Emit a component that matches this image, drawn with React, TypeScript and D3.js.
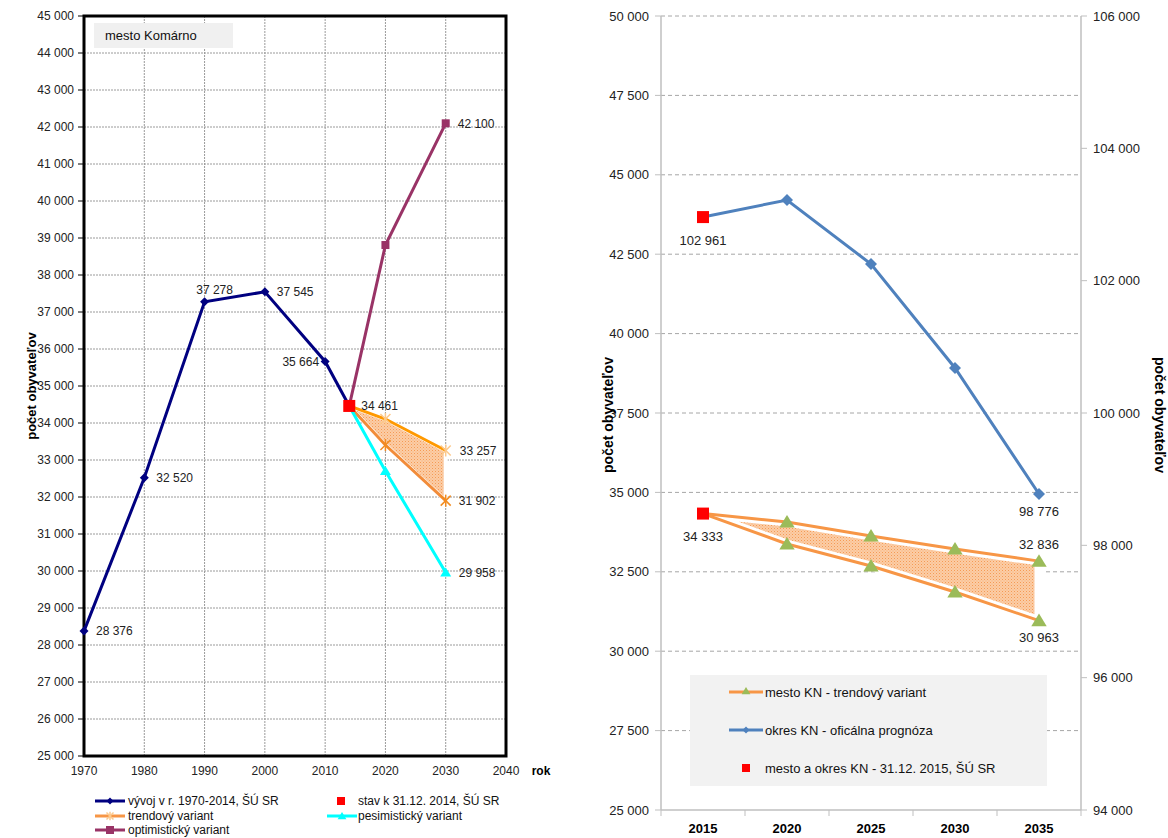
import React from "react";
import * as d3 from "d3";

// ---------- Left chart data ----------
const histYears = [1970, 1980, 1990, 2000, 2010, 2014];
const histValues = [28376, 32520, 37278, 37545, 35664, 34461];
const projYears = [2014, 2020, 2030];
const optimValues = [34461, 38810, 42100];
const trendUpperValues = [34461, 34108, 33257];
const trendLowerValues = [34461, 33405, 31902];
const pesimValues = [34461, 32703, 29958];
const leftYTicks = d3.range(25000, 45001, 1000);
const leftXTicks = [1970, 1980, 1990, 2000, 2010, 2020, 2030, 2040];

// ---------- Right chart data ----------
const rightCats = ["2015", "2020", "2025", "2030", "2035"];
const mestoUpper = [34333, 34068, 33627, 33218, 32836];
const mestoLower = [34333, 33375, 32683, 31864, 30963];
const okresValues = [102961, 103219, 102251, 100680, 98776];
const rightLeftTicks = d3.range(25000, 50001, 2500);
const rightRightTicks = d3.range(94000, 106001, 2000);

const FONT = "Liberation Sans, Arial, sans-serif";
const fmt = (v: number) => {
  const s = String(Math.round(v));
  return s.replace(/\B(?=(\d{3})+(?!\d))/g, " ");
};

export default function App() {
  // Left scales
  const xL = d3.scaleLinear().domain([1970, 2040]).range([84, 506]);
  const yL = d3.scaleLinear().domain([25000, 45000]).range([756, 16]);
  const lineL = (xs: number[], vs: number[]) =>
    d3.line<number>().x((_, i) => xL(xs[i])).y((v) => yL(v))(vs) as string;

  // Right scales
  const xR = d3.scalePoint<string>().domain(rightCats).range([661, 1081]).padding(0.5);
  const yRL = d3.scaleLinear().domain([25000, 50000]).range([810, 16]);
  const yRR = d3.scaleLinear().domain([94000, 106000]).range([810, 16]);
  const lineR = (vs: number[], y: d3.ScaleLinear<number, number>) =>
    d3.line<number>().x((_, i) => xR(rightCats[i]) as number).y((v) => y(v))(vs) as string;

  const areaL = d3
    .area<number>()
    .x((_, i) => xL(projYears[i]))
    .y0((_, i) => yL(trendLowerValues[i]))
    .y1((v) => yL(v))(trendUpperValues) as string;
  const areaR = d3
    .area<number>()
    .x((_, i) => xR(rightCats[i]) as number)
    .y0((_, i) => yRL(mestoLower[i]))
    .y1((v) => yRL(v))(mestoUpper) as string;

  const diamond = (cx: number, cy: number, r: number, fill: string, key?: any) => (
    <path key={key} d={`M${cx},${cy - r}L${cx + r},${cy}L${cx},${cy + r}L${cx - r},${cy}Z`} fill={fill} />
  );
  const triangle = (cx: number, cy: number, r: number, fill: string, key?: any) => (
    <path key={key} d={`M${cx},${cy - r}L${cx + r * 1.1},${cy + r * 0.8}L${cx - r * 1.1},${cy + r * 0.8}Z`} fill={fill} />
  );
  const asterisk = (cx: number, cy: number, r: number, stroke: string, key?: any) => (
    <g key={key} stroke={stroke} strokeWidth={1.5}>
      <line x1={cx - r} y1={cy - r} x2={cx + r} y2={cy + r} />
      <line x1={cx - r} y1={cy + r} x2={cx + r} y2={cy - r} />
      <line x1={cx} y1={cy - r * 1.2} x2={cx} y2={cy + r * 1.2} />
    </g>
  );

  const tickFontL = 12;
  const tickFontR = 13;

  return (
    <svg
      width={1168}
      height={838}
      style={{ position: "absolute", left: 0, top: 0, background: "#fff" }}
      fontFamily={FONT}
    >
      <defs>
        <pattern id="hatch" width={3} height={3} patternUnits="userSpaceOnUse">
          <rect width={3} height={3} fill="#FBCDA6" />
          <rect width={1} height={1} fill="#F59A55" />
          <rect x={1.5} y={1.5} width={1} height={1} fill="#F7AE77" />
        </pattern>
      </defs>

      {/* ================= LEFT CHART ================= */}
      <g>
        {leftYTicks.map((t) => (
          <line key={"gy" + t} x1={84} x2={506} y1={yL(t)} y2={yL(t)} stroke="#9a9a9a" strokeWidth={1} strokeDasharray="2,1" />
        ))}
        {leftXTicks.map((t) => (
          <line key={"gx" + t} x1={xL(t)} x2={xL(t)} y1={16} y2={756} stroke="#9a9a9a" strokeWidth={1} strokeDasharray="2,1" />
        ))}
        <rect x={84} y={16} width={422} height={740} fill="none" stroke="#000" strokeWidth={3} />
        {leftYTicks.map((t) => (
          <g key={"ty" + t}>
            <line x1={78} x2={84} y1={yL(t)} y2={yL(t)} stroke="#000" />
            <text x={74} y={yL(t)} dy="0.35em" textAnchor="end" fontSize={tickFontL} fill="#222">
              {fmt(t)}
            </text>
          </g>
        ))}
        {leftXTicks.map((t) => (
          <text key={"tx" + t} x={xL(t)} y={775} textAnchor="middle" fontSize={tickFontL} fill="#222">
            {t}
          </text>
        ))}
        <text x={541} y={775} textAnchor="middle" fontSize={12} fontWeight="bold">
          rok
        </text>
        <text transform={`translate(36,386) rotate(-90)`} textAnchor="middle" fontSize={13} fontWeight="bold">
          počet obyvateľov
        </text>
        <rect x={94} y={23} width={139} height={25} fill="#F0F0F0" />
        <text x={105} y={40} fontSize={13} fill="#111">
          mesto Komárno
        </text>

        <path d={areaL} fill="url(#hatch)" stroke="#fff" strokeWidth={4} strokeLinejoin="round" />

        <path d={lineL(histYears, histValues)} fill="none" stroke="#000080" strokeWidth={3} />
        <path d={lineL(projYears, optimValues)} fill="none" stroke="#993366" strokeWidth={3} />
        <path d={lineL(projYears, trendUpperValues)} fill="none" stroke="#FF9900" strokeWidth={3} />
        <path d={lineL(projYears, trendLowerValues)} fill="none" stroke="#F28C3A" strokeWidth={3} />
        <path d={lineL(projYears, pesimValues)} fill="none" stroke="#00FFFF" strokeWidth={3} />

        {histYears.slice(0, 5).map((yr, i) => diamond(xL(yr), yL(histValues[i]), 4.5, "#000080", "hd" + i))}
        {projYears.slice(1).map((yr, i) => (
          <rect key={"om" + i} x={xL(yr) - 4} y={yL(optimValues[i + 1]) - 4} width={8} height={8} fill="#993366" />
        ))}
        {projYears.slice(1).map((yr, i) => asterisk(xL(yr), yL(trendUpperValues[i + 1]), 5, "#FCC98C", "tu" + i))}
        {projYears.slice(1).map((yr, i) => asterisk(xL(yr), yL(trendLowerValues[i + 1]), 5, "#F28C20", "tl" + i))}
        {projYears.slice(1).map((yr, i) => triangle(xL(yr), yL(pesimValues[i + 1]), 5, "#00FFFF", "pm" + i))}
        <rect x={xL(2014) - 6} y={yL(34461) - 6} width={12} height={12} fill="#FF0000" />

        <g fontSize={12} fill="#222">
          <text x={xL(1970) + 12} y={yL(28376)} dy="0.35em">{fmt(28376)}</text>
          <text x={xL(1980) + 12} y={yL(32520)} dy="0.35em">{fmt(32520)}</text>
          <text x={xL(1990) + 10} y={yL(37278) - 12} dy="0.35em" textAnchor="middle">{fmt(37278)}</text>
          <text x={xL(2000) + 12} y={yL(37545)} dy="0.35em">{fmt(37545)}</text>
          <text x={xL(2010) - 6} y={yL(35664)} dy="0.35em" textAnchor="end">{fmt(35664)}</text>
          <text x={xL(2014) + 12} y={yL(34461)} dy="0.35em">{fmt(34461)}</text>
          <text x={xL(2030) + 12} y={yL(42100)} dy="0.35em">{fmt(42100)}</text>
          <text x={xL(2030) + 14} y={yL(33257)} dy="0.35em">{fmt(33257)}</text>
          <text x={xL(2030) + 13} y={yL(31902)} dy="0.35em">{fmt(31902)}</text>
          <text x={xL(2030) + 13} y={yL(29958)} dy="0.35em">{fmt(29958)}</text>
        </g>

        <g fontSize={12} fill="#111">
          <line x1={95} x2={125} y1={801} y2={801} stroke="#000080" strokeWidth={3} />
          {diamond(110, 801, 3.5, "#000080")}
          <text x={128} y={801} dy="0.35em">vývoj v r. 1970-2014, ŠÚ SR</text>
          <rect x={337} y={797} width={8} height={8} fill="#FF0000" />
          <text x={358} y={801} dy="0.35em">stav k 31.12. 2014, ŠÚ SR</text>

          <line x1={95} x2={125} y1={816} y2={816} stroke="#F79646" strokeWidth={3} />
          {asterisk(110, 816, 3.5, "#FCC98C")}
          <text x={128} y={816} dy="0.35em">trendový variant</text>
          <line x1={327} x2={357} y1={816} y2={816} stroke="#00FFFF" strokeWidth={3} />
          {triangle(342, 816, 4, "#00FFFF")}
          <text x={358} y={816} dy="0.35em">pesimistický variant</text>

          <line x1={95} x2={125} y1={830} y2={830} stroke="#993366" strokeWidth={3} />
          <rect x={106} y={826} width={8} height={8} fill="#993366" />
          <text x={128} y={830} dy="0.35em">optimistický variant</text>
        </g>
      </g>

      {/* ================= RIGHT CHART ================= */}
      <g>
        {rightLeftTicks.map((t) =>
          t === 25000 ? null : (
            <line key={"rg" + t} x1={661} x2={1081} y1={yRL(t)} y2={yRL(t)} stroke="#a6a6a6" strokeDasharray="4,3" />
          )
        )}
        <line x1={661} x2={661} y1={16} y2={810} stroke="#bfbfbf" strokeWidth={1.5} />
        <line x1={1081} x2={1081} y1={16} y2={810} stroke="#bfbfbf" strokeWidth={1.5} />
        <line x1={661} x2={1081} y1={810} y2={810} stroke="#bfbfbf" strokeWidth={1.5} />
        {rightLeftTicks.map((t) => (
          <g key={"rl" + t}>
            <line x1={655} x2={661} y1={yRL(t)} y2={yRL(t)} stroke="#bfbfbf" />
            <text x={649} y={yRL(t)} dy="0.35em" textAnchor="end" fontSize={tickFontR} fill="#222">
              {fmt(t)}
            </text>
          </g>
        ))}
        {rightRightTicks.map((t) => (
          <g key={"rr" + t}>
            <line x1={1081} x2={1087} y1={yRR(t)} y2={yRR(t)} stroke="#bfbfbf" />
            <text x={1093} y={yRR(t)} dy="0.35em" textAnchor="start" fontSize={tickFontR} fill="#222">
              {fmt(t)}
            </text>
          </g>
        ))}
        {d3.range(rightCats.length + 1).map((i) => {
          const x = 661 + (i * 420) / rightCats.length;
          return <line key={"xt" + i} x1={x} x2={x} y1={810} y2={816} stroke="#bfbfbf" />;
        })}
        {rightCats.map((c) => (
          <text key={"xc" + c} x={xR(c) as number} y={828} dy="0.35em" textAnchor="middle" fontSize={13} fontWeight="bold">
            {c}
          </text>
        ))}
        <text transform={`translate(613,415) rotate(-90)`} textAnchor="middle" fontSize={14} fontWeight="bold">
          počet obyvateľov
        </text>
        <text transform={`translate(1155,415) rotate(90)`} textAnchor="middle" fontSize={14} fontWeight="bold">
          počet obyvateľov
        </text>

        <path d={areaR} fill="url(#hatch)" stroke="#fff" strokeWidth={9} strokeLinejoin="round" />

        <path d={lineR(mestoUpper, yRL)} fill="none" stroke="#F79646" strokeWidth={3} />
        <path d={lineR(mestoLower, yRL)} fill="none" stroke="#F79646" strokeWidth={3} />
        <path d={lineR(okresValues, yRR)} fill="none" stroke="#4F81BD" strokeWidth={3} />

        {rightCats.slice(1).map((c, i) => triangle(xR(c) as number, yRL(mestoUpper[i + 1]), 7, "#9BBB59", "mu" + i))}
        {rightCats.slice(1).map((c, i) => triangle(xR(c) as number, yRL(mestoLower[i + 1]), 7, "#9BBB59", "ml" + i))}
        {rightCats.slice(1).map((c, i) => diamond(xR(c) as number, yRR(okresValues[i + 1]), 6, "#4F81BD", "od" + i))}
        <rect x={(xR("2015") as number) - 6} y={yRL(34333) - 6} width={12} height={12} fill="#FF0000" />
        <rect x={(xR("2015") as number) - 6} y={yRR(102961) - 6} width={12} height={12} fill="#FF0000" />

        <g fontSize={13} fill="#222" textAnchor="middle">
          <text x={xR("2015") as number} y={yRR(102961) + 23} dy="0.35em">{fmt(102961)}</text>
          <text x={xR("2035") as number} y={yRR(98776) + 17} dy="0.35em">{fmt(98776)}</text>
          <text x={xR("2015") as number} y={yRL(34333) + 23} dy="0.35em">{fmt(34333)}</text>
          <text x={xR("2035") as number} y={yRL(32836) - 17} dy="0.35em">{fmt(32836)}</text>
          <text x={xR("2035") as number} y={yRL(30963) + 17} dy="0.35em">{fmt(30963)}</text>
        </g>

        <rect x={690} y={675} width={357} height={111} fill="#F2F2F2" />
        <g fontSize={13} fill="#111">
          <line x1={729} x2={763} y1={692} y2={692} stroke="#F79646" strokeWidth={3} />
          {triangle(746, 691, 4, "#9BBB59")}
          <text x={765} y={692} dy="0.35em">mesto KN - trendový variant</text>
          <line x1={729} x2={763} y1={730} y2={730} stroke="#4F81BD" strokeWidth={3} />
          {diamond(746, 730, 3.5, "#4F81BD")}
          <text x={765} y={730} dy="0.35em">okres KN - oficálna prognóza</text>
          <rect x={742} y={764} width={8} height={8} fill="#FF0000" />
          <text x={765} y={768} dy="0.35em">mesto a okres KN - 31.12. 2015, ŠÚ SR</text>
        </g>
      </g>
    </svg>
  );
}
